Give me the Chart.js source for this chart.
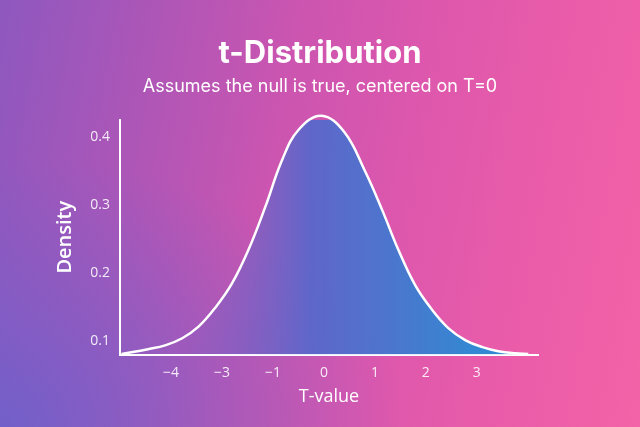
<!DOCTYPE html>
<html>
<head>
<meta charset="utf-8">
<script src="https://cdn.jsdelivr.net/npm/chart.js@4.4.1/dist/chart.umd.min.js"></script>
<style>
  html, body { margin: 0; padding: 0; }
  body {
    width: 640px; height: 427px; overflow: hidden;
    background:
      radial-gradient(ellipse at 0% 100%, rgba(100, 98, 206, 0.75) 0%, rgba(100, 98, 206, 0) 45%),
      linear-gradient(100deg, #8e58bf 0%, #ad56b7 22%, #cb55b0 42%, #dc57ad 60%, #ea5ca9 80%, #f263a7 100%);
  }
  #wrap { width: 640px; height: 427px; }
</style>
</head>
<body>
<div id="wrap"><canvas id="graph1"></canvas></div>
<script>
// values
var tValues = [-3.97, -3.45, -3.1, -2.78, -2.46, -2.13, -1.8, -1.48, -1.15, -0.82, -0.5, -0.05,
               0.4, 0.81, 1.14, 1.46, 1.79, 2.12, 2.44, 2.78, 3.11, 3.42, 3.75, 4.01];
var density = [0.081, 0.088, 0.094, 0.104, 0.121, 0.149, 0.185, 0.234, 0.297, 0.366, 0.410, 0.431,
               0.407, 0.349, 0.293, 0.234, 0.182, 0.146, 0.119, 0.101, 0.091, 0.085, 0.082, 0.081];

var xTicks = [-3, -2, -1, 0, 1, 2, 3];
var xTickLabels = ['\u22124', '\u22123', '\u22121', '0', '1', '2', '3'];
var yTicks = [0.1, 0.2, 0.3, 0.4];
var yTickLabels = ['0.1', '0.2', '0.3', '0.4'];

var points = [];
tValues.forEach((t, i) => {
    points.push({ x: t, y: density[i] });
});

function fillGradient(context) {
    var area = context.chart.chartArea;
    if (!area) return 'rgba(70,115,205,0.8)';
    var g = context.chart.ctx.createLinearGradient(180, 0, 470, 0);
    g.addColorStop(0, 'rgba(85, 100, 205, 0)');
    g.addColorStop(0.45, 'rgba(80, 105, 205, 0.88)');
    g.addColorStop(1, 'rgba(52, 135, 210, 1)');
    return g;
}

var white = '#ffffff';
var tickColor = 'rgba(255, 255, 255, 0.88)';

var ctx = document.getElementById('graph1').getContext('2d');
var config = {
    type: 'line',
    data: {
        datasets: [{
            label: 'Density',
            data: points,
            borderColor: white,
            borderWidth: 2.5,
            backgroundColor: fillGradient,
            fill: 'start',
            pointRadius: 0,
            clip: false,
            tension: 0.4
        }]
    },
    options: {
        responsive: true,
        maintainAspectRatio: false,
        animation: false,
        layout: { padding: 0 },
        plugins: {
            legend: { display: false },
            tooltip: { enabled: false },
            title: {
                display: true,
                text: 't-Distribution',
                color: white,
                font: { family: 'Inter', size: 31, weight: '700' },
                padding: { top: 35, bottom: 4 }
            },
            subtitle: {
                display: true,
                text: 'Assumes the null is true, centered on T=0',
                color: white,
                font: { family: 'Inter', size: 18, weight: '400' },
                padding: { top: 0, bottom: 22 }
            }
        },
        scales: {
            x: {
                type: 'linear',
                min: -4,
                max: 4.2,
                grid: { display: false, drawTicks: false },
                border: { display: true, color: white, width: 2 },
                afterBuildTicks: (scale) => {
                    scale.ticks = xTicks.map(v => ({ value: v }));
                },
                ticks: {
                    color: tickColor,
                    padding: 10,
                    font: { family: 'Open Sans', size: 14 },
                    callback: (value) => xTickLabels[xTicks.indexOf(value)]
                },
                title: {
                    display: true,
                    text: 'T-value',
                    color: white,
                    font: { family: 'Open Sans', size: 18 },
                    padding: { top: -5, bottom: 19 }
                }
            },
            y: {
                type: 'linear',
                min: 0.08,
                max: 0.425,
                grid: { display: false, drawTicks: false },
                border: { display: true, color: white, width: 2 },
                afterBuildTicks: (scale) => {
                    scale.ticks = yTicks.map(v => ({ value: v }));
                },
                afterFit: (scale) => { scale.width = 120; },
                ticks: {
                    color: tickColor,
                    padding: 10,
                    font: { family: 'Open Sans', size: 14 },
                    callback: (value) => yTickLabels[yTicks.indexOf(value)]
                },
                title: {
                    display: true,
                    text: 'Density',
                    color: white,
                    font: { family: 'Open Sans', size: 20, weight: '600' },
                    padding: { top: 53, bottom: 0 }
                }
            },
            // empty right margin so the title stays centred on the page
            spacer: {
                type: 'linear',
                position: 'right',
                grid: { display: false, drawTicks: false },
                border: { display: false },
                ticks: { display: false },
                afterFit: (scale) => { scale.width = 102; }
            }
        }
    }
};
var graph1 = new Chart(ctx, config);
</script>
</body>
</html>
